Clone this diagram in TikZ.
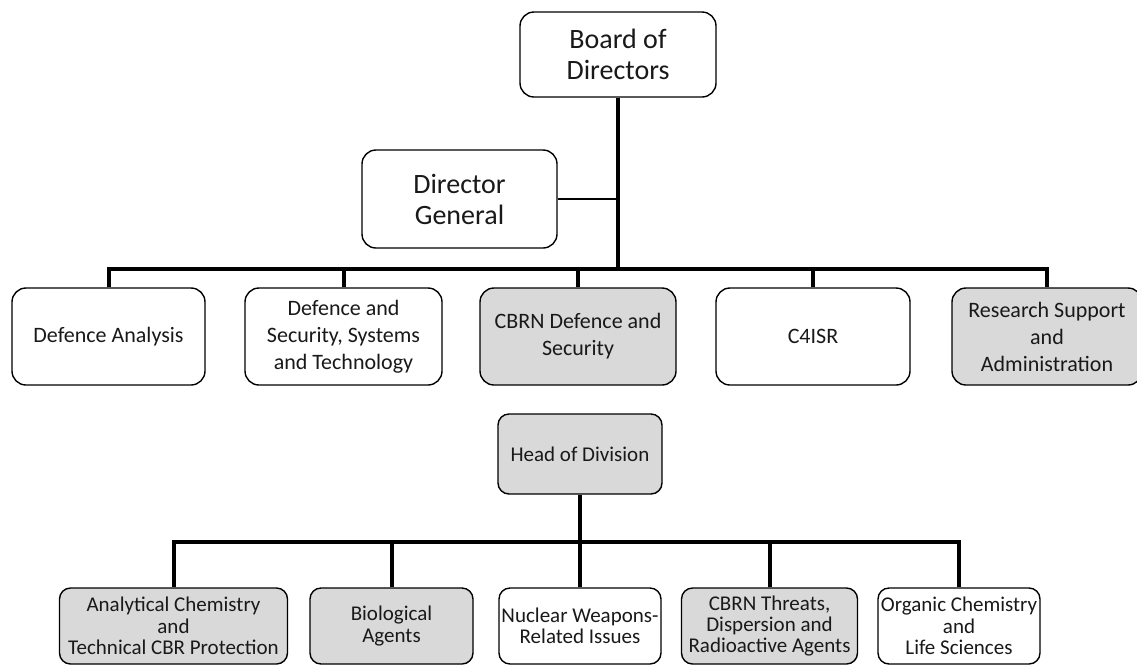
\documentclass[tikz,border=0pt]{standalone}
\usepackage{fontspec}
\setmainfont{Carlito}
\definecolor{boxgrey}{HTML}{D9D9D9}
\begin{document}
\begin{tikzpicture}[x=1pt,y=-1pt,
  box/.style={draw=black, line width=1.4pt, rounded corners=14pt, inner sep=0pt, align=center, fill=white, text=black!90},
  small/.style={rounded corners=11pt},
  shaded/.style={fill=boxgrey},
  bus/.style={line width=4pt, line join=miter},
  big/.style={font=\fontsize{28}{31}\selectfont},
  mid/.style={font=\fontsize{22}{27}\selectfont},
  lowf/.style={font=\fontsize{21}{21.5}\selectfont}]
\useasboundingbox (0,0) rectangle (1137,665);

% top
\node[box, big, minimum width=196pt, minimum height=85pt] (board) at (618,54.5) {Board of\\Directors};
\node[box, big, minimum width=195pt, minimum height=98pt] (dg) at (459.5,199) {Director\\General};

% level 1
\coordinate (bus1) at (0,269);
\node[box, mid, minimum width=193pt, minimum height=97pt] (da) at (108.5,336.5) {Defence Analysis};
\node[box, mid, minimum width=197pt, minimum height=97pt] (dst) at (343.5,336.5) {Defence and\\Security, Systems\\and Technology};
\node[box, mid, shaded, minimum width=196pt, minimum height=97pt] (cbrn) at (578,336.5) {CBRN Defence and\\Security};
\node[box, mid, minimum width=194pt, minimum height=97pt] (c4) at (813,336.5) {C4ISR};
\node[box, mid, shaded, minimum width=190pt, minimum height=97pt] (rsa) at (1047,336.5) {Research Support\\and\\Administration};

% head of division
\node[box, lowf, shaded, small, minimum width=164pt, minimum height=80pt] (hod) at (580,454) {Head of Division};

% level 2
\coordinate (bus2) at (0,542);
\node[box, lowf, shaded, small, minimum width=228pt, minimum height=76pt] (ac) at (173.5,626) {Analytical Chemistry\\and\\Technical CBR Protection};
\node[box, lowf, shaded, small, minimum width=163pt, minimum height=76pt] (bio) at (391.5,626) {Biological\\Agents};
\node[box, lowf, small, minimum width=162pt, minimum height=76pt] (nuc) at (580,626) {Nuclear Weapons-\\Related Issues};
\node[box, lowf, shaded, small, minimum width=176pt, minimum height=76pt] (ct) at (769.5,626) {CBRN Threats,\\Dispersion and\\Radioactive Agents};
\node[box, lowf, small, minimum width=162pt, minimum height=76pt] (org) at (959,626) {Organic Chemistry\\and\\Life Sciences};

% connectors
\draw[bus] (board.south) -- (board.south |- bus1);
\draw[line width=2pt] (dg.east) -- (dg.east -| board.south);
\draw[bus] (da.north) -- (da.north |- bus1) -- (rsa.north |- bus1) -- (rsa.north);
\draw[bus] (dst.north) -- (dst.north |- bus1);
\draw[bus] (cbrn.north) -- (cbrn.north |- bus1);
\draw[bus] (c4.north) -- (c4.north |- bus1);

\draw[bus] (ac.north) -- (ac.north |- bus2) -- (org.north |- bus2) -- (org.north);
\draw[bus] (bio.north) -- (bio.north |- bus2);
\draw[bus] (ct.north) -- (ct.north |- bus2);
\draw[bus] (hod.south) -- (nuc.north);
\end{tikzpicture}
\end{document}
